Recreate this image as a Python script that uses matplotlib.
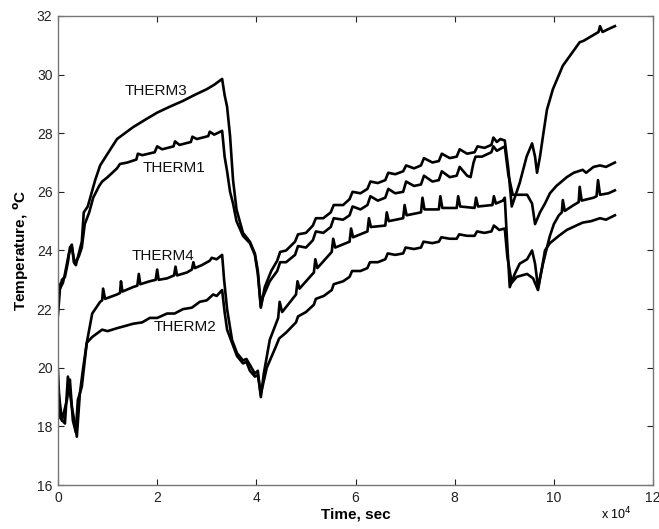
import numpy as np
import matplotlib
matplotlib.use("Agg")
import matplotlib.pyplot as plt

# time in units of 1e4 s, temperature in deg C
t3 = [0, 0.04, 0.08, 0.14, 0.2, 0.24, 0.28, 0.32, 0.36, 0.42, 0.48, 0.52, 0.6, 0.75, 0.85, 1.0,
      1.19, 1.35, 1.51, 1.75, 2.0, 2.25, 2.52, 2.75, 3.0, 3.15, 3.31,
      3.36, 3.41, 3.47, 3.53, 3.6, 3.73, 3.87, 3.97, 4.03, 4.09,
      4.17, 4.30, 4.42, 4.48, 4.60, 4.78, 4.84, 5.0, 5.14, 5.2, 5.35, 5.50, 5.56, 5.75, 5.88, 5.94,
      6.1, 6.24, 6.3, 6.45, 6.6, 6.66, 6.8, 6.96, 7.02, 7.18, 7.32, 7.38, 7.55, 7.68, 7.74, 7.9,
      8.04, 8.1, 8.25, 8.40, 8.46, 8.6, 8.74, 8.78, 8.85, 8.92, 9.01,
      9.08, 9.15, 9.31, 9.45, 9.56, 9.62, 9.66, 9.72, 9.78, 9.86, 9.98, 10.18, 10.35, 10.52, 10.6,
      10.8, 10.9, 10.93, 10.98, 11.1, 11.23]
therm3 = [22.9, 22.7, 23.0, 23.1, 23.6, 24.1, 24.2, 23.6, 23.5, 23.9, 24.3, 25.3, 25.5, 26.4, 26.9, 27.3,
          27.8, 28.0, 28.2, 28.45, 28.7, 28.9, 29.1, 29.3, 29.5, 29.65, 29.85,
          29.3, 28.9, 27.9, 26.4, 25.4, 24.6, 24.3, 23.9, 23.3, 22.1,
          22.75, 23.3, 23.65, 23.95, 24.0, 24.3, 24.55, 24.6, 24.85, 25.1, 25.1, 25.3, 25.55, 25.55, 25.75, 26.0,
          25.95, 26.1, 26.35, 26.3, 26.4, 26.65, 26.6, 26.7, 26.9, 26.8, 26.9, 27.15, 27.0, 27.05, 27.3, 27.15,
          27.2, 27.45, 27.3, 27.35, 27.55, 27.5, 27.6, 27.85, 27.7, 27.8, 27.75,
          26.8, 25.5, 26.3, 27.2, 27.65, 27.2, 26.65, 27.2, 27.9, 28.8, 29.5, 30.3, 30.7, 31.1, 31.15,
          31.35, 31.45, 31.65, 31.45, 31.55, 31.65]

t1 = [0, 0.04, 0.1, 0.14, 0.22, 0.28, 0.34, 0.42, 0.48, 0.54, 0.63, 0.71, 0.83, 0.89, 1.0, 1.19, 1.25,
      1.4, 1.58, 1.61, 1.7, 1.95, 2.0, 2.1, 2.33, 2.36, 2.45, 2.68, 2.71, 2.8, 3.03, 3.06, 3.15, 3.31,
      3.36, 3.41, 3.47, 3.53, 3.6, 3.73, 3.87, 3.97, 4.03, 4.09,
      4.13, 4.27, 4.42, 4.48, 4.6, 4.78, 4.84, 5.0, 5.14, 5.2, 5.35, 5.50, 5.56, 5.75, 5.88, 5.94,
      6.1, 6.24, 6.3, 6.45, 6.6, 6.66, 6.8, 6.96, 7.02, 7.18, 7.32, 7.38, 7.55, 7.68, 7.74, 7.9,
      8.04, 8.1, 8.25, 8.32, 8.38, 8.42, 8.55, 8.74, 8.78, 8.85, 9.01,
      9.08, 9.17, 9.3, 9.46, 9.56, 9.62, 9.72, 9.82, 9.92, 10.05, 10.26, 10.4, 10.58, 10.65, 10.8,
      10.93, 11.05, 11.23]
therm1 = [21.8, 22.7, 22.9, 23.2, 23.9, 24.1, 23.55, 23.8, 24.1, 24.9, 25.3, 25.8, 26.2, 26.35, 26.5, 26.8, 26.95,
          27.0, 27.1, 27.3, 27.25, 27.35, 27.55, 27.45, 27.55, 27.72, 27.6, 27.7, 27.88, 27.8, 27.9, 28.05, 27.95, 28.08,
          27.2, 26.7, 26.0, 25.6, 25.0, 24.5, 24.25, 23.85, 23.2, 22.05,
          22.4, 22.95, 23.3, 23.6, 23.6, 23.85, 24.15, 24.1, 24.35, 24.65, 24.6, 24.8, 25.1, 25.05, 25.2, 25.5,
          25.4, 25.55, 25.85, 25.7, 25.8, 26.1, 25.95, 26.0, 26.35, 26.2, 26.25, 26.55, 26.35, 26.4, 26.7, 26.5,
          26.55, 26.85, 26.55, 26.5, 27.0, 27.2, 27.2, 27.35, 27.55, 27.4, 27.55,
          26.6, 25.9, 25.9, 25.9, 25.6, 24.9, 25.3, 25.6, 25.95, 26.2, 26.5, 26.65, 26.75, 26.65, 26.85,
          26.9, 26.85, 27.0]

t4 = [0, 0.04, 0.14, 0.2, 0.28, 0.34, 0.38, 0.44, 0.5, 0.58, 0.69, 0.85, 0.89, 0.91, 0.95, 1.19, 1.25,
      1.27, 1.3, 1.51, 1.6, 1.63, 1.66, 1.85, 1.97, 2.0, 2.03, 2.2, 2.34, 2.37, 2.4, 2.6, 2.7, 2.73, 2.76,
      2.9, 3.06, 3.1, 3.2, 3.31,
      3.35, 3.41, 3.51, 3.61, 3.73, 3.8, 3.87, 3.97, 4.03, 4.09,
      4.15, 4.27, 4.44, 4.47, 4.52, 4.8, 4.83, 4.87, 5.16, 5.19, 5.23, 5.52, 5.55, 5.59, 5.88, 5.91, 5.95,
      6.24, 6.27, 6.31, 6.6, 6.63, 6.67, 6.96, 6.99, 7.03, 7.32, 7.35, 7.39, 7.68, 7.71, 7.75,
      8.04, 8.07, 8.11, 8.4, 8.43, 8.47, 8.76, 8.79, 8.83, 8.97, 9.01,
      9.05, 9.11, 9.21, 9.31, 9.46, 9.56, 9.62, 9.68, 9.78, 9.86, 9.92, 10.0, 10.1, 10.16, 10.18, 10.22,
      10.4, 10.5, 10.52, 10.56, 10.8, 10.86, 10.89, 10.93, 11.1, 11.23]
therm4 = [19.9, 18.3, 18.1, 19.7, 18.65, 18.1, 17.65, 19.1, 19.9, 20.85, 21.85, 22.25, 22.3, 22.7, 22.35, 22.5, 22.55,
          22.95, 22.6, 22.75, 22.8, 23.2, 22.85, 22.95, 23.0, 23.35, 23.0, 23.05, 23.15, 23.45, 23.15, 23.25, 23.35, 23.6, 23.4,
          23.5, 23.65, 23.75, 23.7, 23.85,
          23.0, 22.0, 20.95, 20.5, 20.25, 20.3, 20.1, 19.8, 19.9, 19.0,
          19.8, 20.95, 21.7, 22.25, 21.9, 22.5, 22.95, 22.7, 23.25, 23.7, 23.4, 23.95, 24.4, 24.1, 24.3, 24.75, 24.45,
          24.65, 25.1, 24.8, 24.85, 25.3, 25.0, 25.1, 25.55, 25.2, 25.3, 25.8, 25.4, 25.4, 25.85, 25.45,
          25.45, 25.85, 25.5, 25.45, 25.8, 25.5, 25.55, 25.85, 25.6, 25.7, 25.8,
          24.5, 22.75, 23.2, 23.55, 23.7, 24.0, 23.55, 22.75, 23.55, 24.1, 24.5, 24.9, 25.2, 25.3, 25.72, 25.35,
          25.55, 25.65, 26.17, 25.7, 25.8, 25.85, 26.4, 25.9, 25.95, 26.05]

t2 = [0, 0.08, 0.18, 0.24, 0.3, 0.36, 0.40, 0.48, 0.54, 0.58, 0.69, 0.89, 1.0, 1.19, 1.3, 1.51, 1.7,
      1.85, 2.0, 2.2, 2.35, 2.52, 2.7, 2.86, 3.0, 3.13, 3.2, 3.31,
      3.36, 3.41, 3.51, 3.61, 3.73, 3.8, 3.87, 3.97, 4.03, 4.09,
      4.21, 4.40, 4.46, 4.6, 4.8, 4.84, 5.0, 5.16, 5.2, 5.36, 5.52, 5.56, 5.75, 5.88, 5.93,
      6.1, 6.24, 6.29, 6.45, 6.6, 6.65, 6.8, 6.96, 7.01, 7.18, 7.32, 7.37, 7.55, 7.68, 7.73, 7.9,
      8.04, 8.09, 8.25, 8.40, 8.45, 8.6, 8.74, 8.79, 8.9, 9.01,
      9.06, 9.15, 9.25, 9.46, 9.58, 9.68, 9.78, 9.82, 9.92, 10.1, 10.26, 10.45, 10.58, 10.75,
      10.93, 11.05, 11.23]
therm2 = [19.35, 18.2, 18.9, 19.6, 18.2, 17.8, 18.9, 19.35, 20.25, 20.85, 21.05, 21.3, 21.25, 21.35, 21.4, 21.5, 21.55,
          21.7, 21.7, 21.85, 21.85, 22.0, 22.05, 22.25, 22.3, 22.5, 22.45, 22.65,
          21.9, 21.3, 20.85, 20.4, 20.15, 20.2, 19.9, 19.7, 19.75, 19.1,
          20.0, 20.75, 21.0, 21.2, 21.55, 21.75, 21.9, 22.15, 22.35, 22.45, 22.65, 22.85, 22.95, 23.1, 23.3,
          23.3, 23.4, 23.6, 23.6, 23.7, 23.9, 23.85, 23.9, 24.1, 24.05, 24.1, 24.3, 24.25, 24.3, 24.45, 24.4,
          24.4, 24.55, 24.5, 24.5, 24.65, 24.6, 24.65, 24.85, 24.7, 24.75,
          23.8, 22.9, 23.1, 23.2, 23.05, 22.65, 23.6, 24.0, 24.25, 24.5, 24.7, 24.85, 24.95, 25.0,
          25.1, 25.05, 25.2]

labels = ["THERM3", "THERM1", "THERM4", "THERM2"]
label_xy = [(1.35, 29.45), (1.71, 26.8), (1.49, 23.8), (1.92, 21.4)]
x_ticks = [0, 2, 4, 6, 8, 10, 12]
y_ticks = [16, 18, 20, 22, 24, 26, 28, 30, 32]

plt.rcParams.update({"font.family": "Liberation Sans", "font.size": 10})

fig = plt.figure(figsize=(6.59, 5.29), dpi=100)
ax = fig.add_axes([0.088, 0.083, 0.903, 0.887])

for t, y in [(t3, therm3), (t1, therm1), (t4, therm4), (t2, therm2)]:
    ax.plot(t, y, color="black", lw=1.9, solid_joinstyle="round")

for lbl, (x, y) in zip(labels, label_xy):
    ax.text(x, y, lbl, fontsize=11, color="#111111", va="center", ha="left")

ax.set_xlim(0, 12)
ax.set_ylim(16, 32)
ax.set_xticks(x_ticks)
ax.set_yticks(y_ticks)
ax.tick_params(direction="in", top=True, right=True, length=4, colors="#222222",
               labelsize=10, pad=4)
for s in ax.spines.values():
    s.set_color("#777777")
    s.set_linewidth(1.0)

ax.set_xlabel("Time, sec", fontsize=11, fontweight="bold", labelpad=2)
ax.set_ylabel("Temperature, $\\mathbf{^{o}}$C", fontsize=11, fontweight="bold", labelpad=4)
fig.text(0.912, 0.012, "x 10$^{4}$", fontsize=9, ha="left", va="bottom")

fig.savefig("out.png", dpi=100)
